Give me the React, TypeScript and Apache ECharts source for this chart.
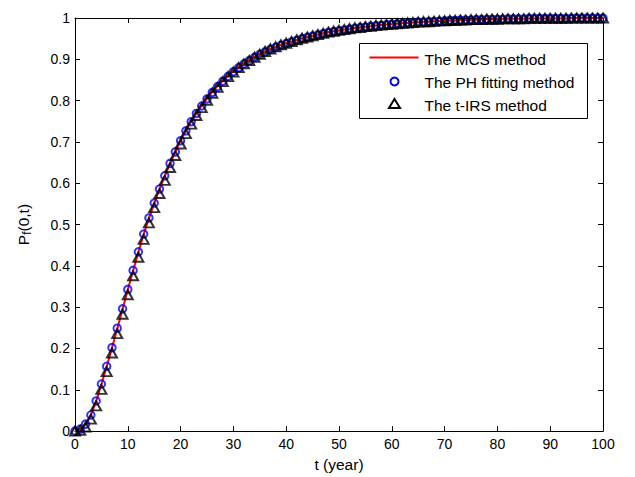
import React, { useEffect, useRef } from "react";
import * as echarts from "echarts";

// time axis (years)
const years: number[] = [
  0, 1, 2, 3, 4, 5, 6, 7, 8, 9, 10, 11, 12, 13, 14, 15, 16, 17, 18, 19, 20,
  21, 22, 23, 24, 25, 26, 27, 28, 29, 30, 31, 32, 33, 34, 35, 36, 37, 38, 39, 40,
  41, 42, 43, 44, 45, 46, 47, 48, 49, 50, 51, 52, 53, 54, 55, 56, 57, 58, 59, 60,
  61, 62, 63, 64, 65, 66, 67, 68, 69, 70, 71, 72, 73, 74, 75, 76, 77, 78, 79, 80,
  81, 82, 83, 84, 85, 86, 87, 88, 89, 90, 91, 92, 93, 94, 95, 96, 97, 98, 99, 100,
];

// The MCS method
const mcsValues: number[] = [
  0, 0.004, 0.016, 0.038, 0.072, 0.113, 0.156, 0.201, 0.248, 0.295, 0.342,
  0.388, 0.433, 0.476, 0.515, 0.551, 0.585, 0.617, 0.647, 0.676, 0.703,
  0.727, 0.749, 0.769, 0.788, 0.805, 0.821, 0.835, 0.848, 0.86, 0.871,
  0.881, 0.89, 0.898, 0.906, 0.913, 0.919, 0.925, 0.93, 0.935, 0.939,
  0.943, 0.947, 0.951, 0.954, 0.957, 0.96, 0.963, 0.966, 0.968, 0.97,
  0.972, 0.974, 0.976, 0.977, 0.979, 0.98, 0.982, 0.983, 0.984, 0.985,
  0.986, 0.987, 0.988, 0.989, 0.99, 0.991, 0.991, 0.992, 0.993, 0.993,
  0.994, 0.994, 0.995, 0.995, 0.996, 0.996, 0.996, 0.997, 0.997, 0.997,
  0.998, 0.998, 0.998, 0.998, 0.998, 0.999, 0.999, 0.999, 0.999, 0.999,
  0.999, 0.999, 0.999, 1.0, 1.0, 1.0, 1.0, 1.0, 1.0, 1.0,
];

// The PH fitting method
const phValues: number[] = [
  0, 0.005, 0.017, 0.039, 0.073, 0.114, 0.157, 0.202, 0.249, 0.296, 0.343,
  0.389, 0.434, 0.477, 0.516, 0.552, 0.586, 0.618, 0.648, 0.676, 0.703,
  0.727, 0.749, 0.769, 0.787, 0.804, 0.82, 0.834, 0.847, 0.859, 0.87,
  0.88, 0.889, 0.897, 0.905, 0.912, 0.918, 0.924, 0.929, 0.934, 0.938,
  0.942, 0.946, 0.95, 0.953, 0.956, 0.959, 0.962, 0.965, 0.967, 0.969,
  0.971, 0.973, 0.975, 0.977, 0.978, 0.98, 0.981, 0.982, 0.984, 0.985,
  0.986, 0.987, 0.988, 0.989, 0.99, 0.99, 0.991, 0.992, 0.992, 0.993,
  0.994, 0.994, 0.995, 0.995, 0.995, 0.996, 0.996, 0.997, 0.997, 0.997,
  0.997, 0.998, 0.998, 0.998, 0.998, 0.999, 0.999, 0.999, 0.999, 0.999,
  0.999, 0.999, 0.999, 0.999, 1.0, 1.0, 1.0, 1.0, 1.0, 1.0,
];

// The t-IRS method
const tirsValues: number[] = [
  0, 0.002, 0.01, 0.029, 0.061, 0.101, 0.144, 0.189, 0.236, 0.283, 0.33,
  0.376, 0.421, 0.464, 0.504, 0.541, 0.575, 0.607, 0.638, 0.667, 0.695,
  0.72, 0.743, 0.764, 0.783, 0.801, 0.818, 0.832, 0.846, 0.858, 0.869,
  0.88, 0.889, 0.897, 0.905, 0.912, 0.919, 0.925, 0.93, 0.935, 0.939,
  0.943, 0.947, 0.951, 0.954, 0.957, 0.96, 0.963, 0.966, 0.968, 0.97,
  0.972, 0.974, 0.976, 0.977, 0.979, 0.98, 0.982, 0.983, 0.984, 0.985,
  0.986, 0.987, 0.988, 0.989, 0.99, 0.991, 0.991, 0.992, 0.993, 0.993,
  0.994, 0.994, 0.995, 0.995, 0.996, 0.996, 0.996, 0.997, 0.997, 0.997,
  0.998, 0.998, 0.998, 0.998, 0.998, 0.999, 0.999, 0.999, 0.999, 0.999,
  0.999, 0.999, 0.999, 1.0, 1.0, 1.0, 1.0, 1.0, 1.0, 1.0,
];

const seriesNames: string[] = ["The MCS method", "The PH fitting method", "The t-IRS method"];
const xAxisTitle = "t (year)";

const FONT = "'Liberation Sans', Arial, sans-serif";

export default function App() {
  const ref = useRef<HTMLDivElement>(null);

  useEffect(() => {
    if (!ref.current) return;
    const chart = echarts.init(ref.current, undefined, { renderer: "svg" });

    const pair = (vals: number[]) => years.map((t, i) => [t, vals[i]]);

    const axisLine = { show: true, onZero: false, lineStyle: { color: "#000", width: 1 } };
    const axisTick = { show: true, inside: true, length: 5, lineStyle: { color: "#000", width: 1 } };

    chart.setOption({
      animation: false,
      backgroundColor: "#fff",
      textStyle: { fontFamily: FONT },
      grid: { left: 75, top: 18, right: 32, bottom: 43, containLabel: false },
      xAxis: [
        {
          type: "value",
          min: 0,
          max: 100,
          interval: 10,
          position: "bottom",
          axisLine,
          axisTick,
          splitLine: { show: false },
          axisLabel: { color: "#000", fontSize: 14, fontFamily: FONT, margin: 6 },
          name: xAxisTitle,
          nameLocation: "middle",
          nameGap: 24,
          nameTextStyle: { color: "#000", fontSize: 15.5, fontFamily: FONT },
        },
        {
          type: "value",
          min: 0,
          max: 100,
          interval: 10,
          position: "top",
          axisLine,
          axisTick,
          splitLine: { show: false },
          axisLabel: { show: false },
        },
      ],
      yAxis: [
        {
          type: "value",
          min: 0,
          max: 1,
          interval: 0.1,
          position: "left",
          axisLine,
          axisTick,
          splitLine: { show: false },
          axisLabel: {
            color: "#000",
            fontSize: 14,
            fontFamily: FONT,
            margin: 5,
            formatter: (v: number) => String(+v.toFixed(1)),
          },
          name: "{a|P}{b|f}{a|(0,t)}",
          nameLocation: "middle",
          nameGap: 42,
          nameRotate: 90,
          nameTextStyle: {
            color: "#000",
            fontFamily: FONT,
            rich: {
              a: { fontSize: 15.5, fontFamily: FONT, color: "#000", lineHeight: 20 },
              b: {
                fontSize: 12,
                fontFamily: FONT,
                color: "#000",
                lineHeight: 20,
                verticalAlign: "bottom",
                padding: [8, 0, 0, 0],
              },
            },
          },
        },
        {
          type: "value",
          min: 0,
          max: 1,
          interval: 0.1,
          position: "right",
          axisLine,
          axisTick,
          splitLine: { show: false },
          axisLabel: { show: false },
        },
      ],
      series: [
        {
          name: seriesNames[0],
          type: "line",
          data: pair(mcsValues),
          showSymbol: false,
          symbol: "none",
          lineStyle: { color: "#ff0000", width: 2 },
          itemStyle: { color: "#ff0000" },
          clip: false,
          silent: true,
          z: 2,
        },
        {
          name: seriesNames[1],
          type: "scatter",
          data: pair(phValues),
          symbol: "circle",
          symbolSize: 7.5,
          itemStyle: { color: "rgba(0,0,0,0)", borderColor: "#0000ff", borderWidth: 2 },
          clip: false,
          silent: true,
          z: 3,
        },
        {
          name: seriesNames[2],
          type: "scatter",
          data: pair(tirsValues),
          symbol: "triangle",
          symbolSize: [10, 9],
          itemStyle: { color: "rgba(0,0,0,0)", borderColor: "#000000", borderWidth: 2 },
          clip: false,
          silent: true,
          z: 4,
        },
      ],
      graphic: [
        {
          type: "group",
          left: 359,
          top: 43,
          z: 100,
          children: [
            {
              type: "rect",
              shape: { x: 0, y: 0, width: 228, height: 75 },
              style: { fill: "#fff", stroke: "#000", lineWidth: 1 },
            },
            {
              type: "line",
              shape: { x1: 10, y1: 14, x2: 59, y2: 14 },
              style: { stroke: "#ff0000", lineWidth: 2 },
            },
            {
              type: "circle",
              shape: { cx: 35, cy: 38, r: 4 },
              style: { fill: "none", stroke: "#0000ff", lineWidth: 2 },
            },
            {
              type: "polygon",
              shape: { points: [[35, 55.5], [40.5, 64.5], [29.5, 64.5]] },
              style: { fill: "none", stroke: "#000", lineWidth: 2 },
            },
            {
              type: "text",
              x: 65,
              y: 15.5,
              style: { text: seriesNames[0], fill: "#000", font: `15.5px ${FONT}`, verticalAlign: "middle" },
            },
            {
              type: "text",
              x: 65,
              y: 38.5,
              style: { text: seriesNames[1], fill: "#000", font: `15.5px ${FONT}`, verticalAlign: "middle" },
            },
            {
              type: "text",
              x: 65,
              y: 61.5,
              style: { text: seriesNames[2], fill: "#000", font: `15.5px ${FONT}`, verticalAlign: "middle" },
            },
          ],
        },
      ],
    });

    return () => {
      chart.dispose();
    };
  }, []);

  return (
    <div
      ref={ref}
      style={{ position: "absolute", left: 0, top: 0, width: 635, height: 477, background: "#fff" }}
    />
  );
}
